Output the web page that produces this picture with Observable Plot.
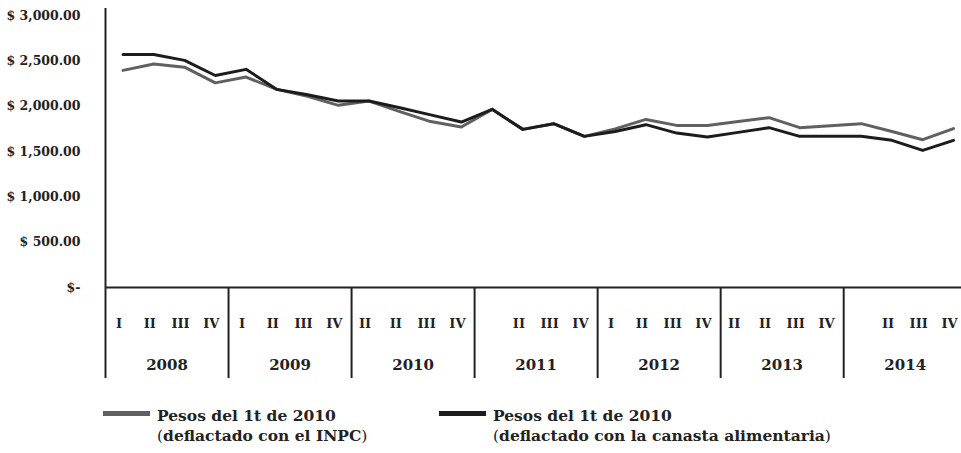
<!DOCTYPE html>
<html>
<head>
<meta charset="utf-8">
<script src="https://cdn.jsdelivr.net/npm/d3@7"></script>
<script src="https://cdn.jsdelivr.net/npm/@observablehq/plot@0.6"></script>
<style>
  html, body { margin: 0; padding: 0; background: #fff; }
  #wrap { position: relative; width: 961px; height: 453px; overflow: hidden; font-family: "DejaVu Serif", serif; }
  #chart { position: absolute; left: 0; top: 0; }
  .leg { position: absolute; font-size: 15.5px; line-height: 20px; font-weight: bold; color: #222; white-space: nowrap; }
  .sw { position: absolute; height: 5px; width: 47px; }
  .p { font-weight: normal; }
</style>
</head>
<body>
<div id="wrap">
  <div id="chart"></div>
  <div class="sw" style="left:103px; top:411px; background:#606060;"></div>
  <div class="leg" style="left:157px; top:406px;">Pesos del 1t de 2010<br><span class="p">(</span>deflactado con el INPC<span class="p">)</span></div>
  <div class="sw" style="left:439px; top:411px; background:#1c1c1c;"></div>
  <div class="leg" style="left:493px; top:406px;">Pesos del 1t de 2010<br><span class="p">(</span>deflactado con la canasta alimentaria<span class="p">)</span></div>
</div>
<script>
// Data
const years = ["2008", "2009", "2010", "2011", "2012", "2013", "2014"];
const quarterLabels = [
  "I", "II", "III", "IV",
  "I", "II", "III", "IV",
  "II", "II", "III", "IV",
  "", "II", "III", "IV",
  "I", "II", "III", "IV",
  "II", "II", "III", "IV",
  "", "II", "III", "IV"
];
const inpc = [2395, 2465, 2430, 2257, 2321, 2185, 2110, 2009, 2056, 1940, 1830, 1770, 1965, 1744, 1807, 1667, 1750, 1854, 1788, 1788, 1832, 1873, 1763, 1785, 1807, 1720, 1630, 1752];
const canasta = [2570, 2570, 2505, 2338, 2406, 2185, 2125, 2056, 2056, 1983, 1904, 1825, 1965, 1744, 1807, 1667, 1720, 1796, 1703, 1659, 1711, 1763, 1667, 1667, 1667, 1623, 1512, 1623];
const yTicks = [0, 500, 1000, 1500, 2000, 2500, 3000];

const table = quarterLabels.map((q, i) => ({i, q, inpc: inpc[i], canasta: canasta[i]}));

const xLeft = -0.57, xRight = 27.26;
const bounds = years.map((_, k) => 4 * k + xLeft);
const yearCenters = years.map((_, k) => 4 * k + 1.43);
const axisTop = 3078;
const fmt = d3.format(",.2f");

const chart = Plot.plot({
  width: 961,
  height: 395,
  marginLeft: 105,
  marginRight: 0,
  marginTop: 15,
  marginBottom: 108,
  style: {fontFamily: "DejaVu Serif, serif", fontWeight: "bold", color: "#222", background: "#fff"},
  x: {domain: [xLeft, xRight], label: null},
  y: {domain: [0, 3000], label: null},
  marks: [
    Plot.axisY(yTicks, {tickSize: 0, tickPadding: 25, fontSize: 12.5, label: null,
      tickFormat: d => d === 0 ? "$-" : "$ " + fmt(d)}),
    Plot.ruleX([xLeft], {y1: 0, y2: axisTop, stroke: "#222", strokeWidth: 2}),
    Plot.ruleY([0], {stroke: "#222", strokeWidth: 2}),
    Plot.axisX(bounds, {anchor: "bottom", tickSize: 91, label: null, tickFormat: () => "", stroke: "#222", strokeWidth: 2}),
    Plot.axisX(table.map(d => d.i), {anchor: "bottom", tickSize: 0, tickPadding: 31, fontSize: 13, dx: -4, label: null,
      tickFormat: d => quarterLabels[d]}),
    Plot.axisX(yearCenters, {anchor: "bottom", tickSize: 0, tickPadding: 72, fontSize: 15, label: null,
      tickFormat: d => years[Math.round((d - 1.43) / 4)]}),
    Plot.line(table, {x: "i", y: "inpc", stroke: "#606060", strokeWidth: 3}),
    Plot.line(table, {x: "i", y: "canasta", stroke: "#1c1c1c", strokeWidth: 3})
  ]
});
document.getElementById("chart").appendChild(chart);
</script>
</body>
</html>
